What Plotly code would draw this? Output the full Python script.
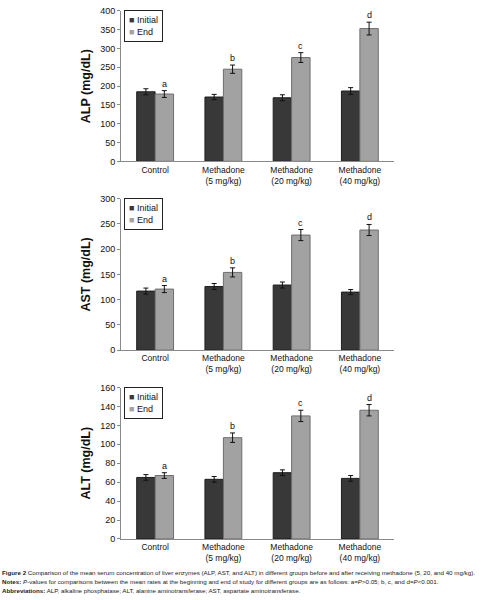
import plotly.graph_objects as go

categories = ["Control", "Methadone<br>(5 mg/kg)", "Methadone<br>(20 mg/kg)", "Methadone<br>(40 mg/kg)"]
series_names = ["Initial", "End"]

alp_initial = [185, 171, 169, 187]
alp_initial_err = [8, 7, 8, 9]
alp_end = [179, 245, 276, 353]
alp_end_err = [9, 11, 13, 17]

ast_initial = [117, 126, 129, 115]
ast_initial_err = [6, 6, 6, 5]
ast_end = [121, 154, 228, 238]
ast_end_err = [7, 9, 11, 11]

alt_initial = [65, 63, 70, 64]
alt_initial_err = [3, 3, 3, 3]
alt_end = [67, 107, 130, 136]
alt_end_err = [3, 5, 6, 6]

sig_letters = ["a", "b", "c", "d"]

y_titles = ["ALP (mg/dL)", "AST (mg/dL)", "ALT (mg/dL)"]
y_ranges = [[0, 400], [0, 300], [0, 160]]
y_dticks = [50, 50, 20]

panels = [
    (alp_initial, alp_initial_err, alp_end, alp_end_err),
    (ast_initial, ast_initial_err, ast_end, ast_end_err),
    (alt_initial, alt_initial_err, alt_end, alt_end_err),
]

W, H = 482, 600
panel_px = [(6, 159), (197, 351), (389, 543)]
x_left, x_right = 121, 394

FONT = "Liberation Sans, Arial, sans-serif"
fig = go.Figure()
xpos = list(range(len(categories)))
bw = 0.27

colors = ["#383838", "#a2a2a2"]
lines = ["#1e1e1e", "#6e6e6e"]

layout_updates = {}
annotations = []
for i, (ini, inie, end, ende) in enumerate(panels):
    n = "" if i == 0 else str(i + 1)
    xa = "x" + n
    ya = "y" + n
    for k, (vals, errs) in enumerate([(ini, inie), (end, ende)]):
        fig.add_trace(go.Bar(
            x=xpos, y=vals, width=bw, offset=-bw if k == 0 else 0,
            name=series_names[k], xaxis=xa, yaxis=ya, showlegend=False,
            marker=dict(color=colors[k], line=dict(color=lines[k], width=1)),
            error_y=dict(type="data", array=errs, color="#111111", thickness=1, width=2.5),
        ))
    top, bot = panel_px[i]
    layout_updates["xaxis" + n] = dict(
        domain=[x_left / W, x_right / W], range=[-0.5, 3.5], anchor=ya,
        tickmode="array", tickvals=xpos, ticktext=categories, ticks="",
        showline=True, linecolor="#8a8a8a", linewidth=1,
        tickfont=dict(family=FONT, size=8.5, color="#111"), showgrid=False, zeroline=False,
    )
    layout_updates["yaxis" + n] = dict(
        domain=[1 - bot / H, 1 - top / H], range=y_ranges[i], dtick=y_dticks[i],
        anchor=xa, showline=True, linecolor="#8a8a8a", linewidth=1,
        ticks="outside", ticklen=3, tickcolor="#8a8a8a",
        tickfont=dict(family=FONT, size=9, color="#111"), showgrid=False, zeroline=False,
        title=dict(text="<b>" + y_titles[i] + "</b>", font=dict(family=FONT, size=12.5, color="#111"), standoff=6),
    )
    leg_text = "<br>".join(
        f"<span style='color:{colors[k]}'>■</span> {series_names[k]}" for k in range(len(series_names))
    )
    annotations.append(dict(
        x=(x_left + 3) / W, y=1 - (top - 1) / H, xref="paper", yref="paper",
        xanchor="left", yanchor="top", align="left", showarrow=False,
        text=leg_text, bordercolor="#222", borderwidth=1, borderpad=4, bgcolor="white",
        font=dict(family=FONT, size=9, color="#111"),
    ))
    for j in range(len(categories)):
        annotations.append(dict(
            x=xpos[j] + bw / 2, y=end[j] + ende[j], xref=xa, yref=ya,
            text=sig_letters[j], showarrow=False, yanchor="bottom", yshift=0,
            font=dict(family=FONT, size=9, color="#111"),
        ))

caption = [
    "<b>Figure 2</b> Comparison of the mean serum concentration of liver enzymes (ALP, AST, and ALT) in different groups before and after receiving methadone (5, 20, and 40 mg/kg).",
    "<b>Notes:</b> <i>P</i>-values for comparisons between the mean rates at the beginning and end of study for different groups are as follows: a=<i>P</i>&gt;0.05; b, c, and d=<i>P</i>&lt;0.001.",
    "<b>Abbreviations:</b> ALP, alkaline phosphatase; ALT, alanine aminotransferase; AST, aspartate aminotransferase.",
]
for k, t in enumerate(caption):
    annotations.append(dict(
        x=0, y=1 - (577 + 9 * k) / H, xref="paper", yref="paper", xanchor="left", yanchor="middle",
        text=t, showarrow=False, font=dict(family=FONT, size=6.2, color="#222"),
    ))

fig.update_layout(
    width=W, height=H, margin=dict(l=0, r=0, t=0, b=0),
    paper_bgcolor="white", plot_bgcolor="white",
    barmode="overlay", showlegend=False, annotations=annotations,
    **layout_updates,
)
fig.write_html(
    "out.html",
    config={"displayModeBar": False},
    post_script="document.body.style.margin='0';document.body.style.overflow='hidden';",
)
